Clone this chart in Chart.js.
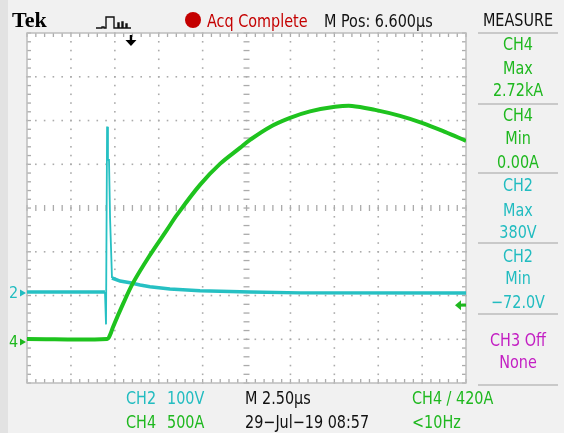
<!DOCTYPE html>
<html><head><meta charset="utf-8">
<script src="https://cdn.jsdelivr.net/npm/chart.js@4.4.1/dist/chart.umd.min.js"></script>
<style>
html,body{margin:0;padding:0;background:#f1f1f1;}
#wrap{position:relative;width:564px;height:433px;overflow:hidden;background:#f1f1f1;}
#strip{position:absolute;left:0;top:0;width:8px;height:433px;background:#e2e2e2;}
#c{position:absolute;left:0;top:0;}
.t{position:absolute;font-family:'DejaVu Sans Condensed','DejaVu Sans',sans-serif;font-stretch:condensed;font-size:16px;line-height:18px;white-space:nowrap;transform:scale(1,1.12);}
.pc{left:478px;width:80px;text-align:center;}
.sep{position:absolute;left:478px;width:80px;height:2px;background:#c9c9c9;}
.g{color:#1fb81f;} .cy{color:#22bcc0;} .mg{color:#c31ec3;} .k{color:#111;} .r{color:#c40000;}
</style></head>
<body>
<div id="wrap">
<div id="strip"></div>
<canvas id="c" width="564" height="433"></canvas>

<div class="t" style="left:12px;top:8px;font-family:'Liberation Serif',serif;font-weight:bold;font-size:22px;line-height:23px;transform:none;">Tek</div>
<svg style="position:absolute;left:96px;top:14px" width="36" height="16"><polyline points="0,14 6,14 6,13 8,13 8,14 10,14 10,3 18,3 18,14 22,14 22,9 23,9 23,14 26,14 26,8 27,8 27,14 30,14 30,10 31,10 31,14 35,14" fill="none" stroke="#111" stroke-width="1.4"/></svg>
<div style="position:absolute;left:185px;top:12px;width:16px;height:16px;border-radius:50%;background:#c40000;"></div>
<div class="t r" style="left:207px;top:12px;">Acq Complete</div>
<div class="t k" style="left:324px;top:12px;">M Pos: 6.600µs</div>
<div class="t k pc" style="top:11px;">MEASURE</div>

<div class="sep" style="top:32px"></div>
<div class="t g pc" style="top:35px">CH4</div>
<div class="t g pc" style="top:59px">Max</div>
<div class="t g pc" style="top:81px">2.72kA</div>
<div class="sep" style="top:103px"></div>
<div class="t g pc" style="top:106px">CH4</div>
<div class="t g pc" style="top:129px">Min</div>
<div class="t g pc" style="top:153px">0.00A</div>
<div class="sep" style="top:172px"></div>
<div class="t cy pc" style="top:176px">CH2</div>
<div class="t cy pc" style="top:201px">Max</div>
<div class="t cy pc" style="top:223px">380V</div>
<div class="sep" style="top:242px"></div>
<div class="t cy pc" style="top:247px">CH2</div>
<div class="t cy pc" style="top:269px">Min</div>
<div class="t cy pc" style="top:293px">−72.0V</div>
<div class="sep" style="top:313px"></div>
<div class="t mg pc" style="top:331px">CH3 Off</div>
<div class="t mg pc" style="top:353px">None</div>
<div class="sep" style="top:384px"></div>

<div class="t cy" style="left:126px;top:389px">CH2</div>
<div class="t cy" style="left:167px;top:389px">100V</div>
<div class="t g" style="left:126px;top:413px">CH4</div>
<div class="t g" style="left:167px;top:413px">500A</div>
<div class="t k" style="left:245px;top:389px">M 2.50µs</div>
<div class="t k" style="left:245px;top:413px">29−Jul−19 08:57</div>
<div class="t g" style="left:412px;top:389px">CH4 ∕ 420A</div>
<div class="t g" style="left:412px;top:413px">&lt;10Hz</div>

<div id="m2" class="t cy" style="left:9px;top:0px;transform:none;">2</div>
<div id="m4" class="t g" style="left:9px;top:0px;transform:none;">4</div>
</div>

<script>
// ---- channel settings ----
const ch2VoltsPerDiv = 100;
const ch4AmpsPerDiv = 500;
const ch2GroundDiv = -1.94;
const ch4GroundDiv = -3.06;
const timePerDivUs = 2.5;
const timeSpanUs = 25;
const triggerTimeUs = 5.92;
const triggerLevelA = 420;

// ---- CH4 current (A) ----
const ch4TimeUs = [0, 4.56, 4.73, 4.90, 5.47, 6.04, 7.01, 7.97, 8.54, 9.85, 10.99, 12.13, 12.70, 13.84, 14.98, 16.12, 17.54, 18.51, 19.82, 21.24, 22.49, 23.80, 25.0];
const ch4Amps   = [34, 34, 80, 171, 434, 674, 994, 1280, 1451, 1794, 2034, 2217, 2309, 2457, 2560, 2634, 2686, 2697, 2651, 2583, 2503, 2400, 2297];

// ---- CH2 voltage (V) ----
const ch2TimeUs = [0, 4.44, 4.50, 4.56, 4.61, 4.67, 4.73, 4.78, 4.84, 5.30, 5.87, 6.44, 7.00, 8.14, 9.85, 12.70, 15.55, 25.0];
const ch2Volts  = [2, 2, -72, 380, 304, 304, 171, 171, 34, 27, 23, 18, 14, 9, 5, 2, 0, 0];

const toDiv = (v, ground, perDiv) => ground + v / perDiv;

const graticule = {
  id: 'graticule',
  beforeDatasetsDraw(chart) {
    const {ctx, chartArea: a, scales: {x, y}} = chart;
    ctx.save();
    ctx.fillStyle = '#ffffff';
    ctx.fillRect(a.left, a.top, a.width, a.height);
    const xMinor = [], yMinor = [], xMajor = [], yMajor = [];
    for (let i = 0; i <= 50; i++) xMinor.push(x.getPixelForValue(x.min + i * timePerDivUs / 5));
    for (let i = 0; i <= 10; i++) xMajor.push(x.getPixelForValue(x.min + i * timePerDivUs));
    for (let i = 0; i <= 40; i++) yMinor.push(y.getPixelForValue(y.min + i / 5));
    for (let i = 0; i <= 8; i++) yMajor.push(y.getPixelForValue(y.min + i));
    ctx.fillStyle = '#ababab';
    xMajor.forEach((px, i) => { if (i > 0 && i < 10 && i !== 5) yMinor.forEach(py => ctx.fillRect(px - 0.75, py - 0.75, 1.6, 1.6)); });
    yMajor.forEach((py, j) => { if (j > 0 && j < 8 && j !== 4) xMinor.forEach(px => ctx.fillRect(px - 0.75, py - 0.75, 1.6, 1.6)); });
    const x0 = x.getPixelForValue((x.min + x.max) / 2), y0 = y.getPixelForValue(0);
    xMinor.forEach(px => ctx.fillRect(px - 0.6, y0 - 3, 1.3, 6));
    yMinor.forEach(py => ctx.fillRect(x0 - 3, py - 0.6, 6, 1.3));
    xMinor.forEach(px => { ctx.fillRect(px - 0.6, a.top, 1.3, 4); ctx.fillRect(px - 0.6, a.bottom - 4, 1.3, 4); });
    yMinor.forEach(py => { ctx.fillRect(a.left, py - 0.6, 4, 1.3); ctx.fillRect(a.right - 4, py - 0.6, 4, 1.3); });
    ctx.strokeStyle = '#bdbdbd';
    ctx.lineWidth = 1.5;
    ctx.strokeRect(a.left, a.top, a.width, a.height);
    ctx.restore();
  },
  afterDraw(chart) {
    const {ctx, chartArea: a, scales: {x, y}} = chart;
    ctx.save();
    const tx = x.getPixelForValue(triggerTimeUs);
    ctx.fillStyle = '#000';
    ctx.fillRect(tx - 1.2, a.top + 2, 2.4, 6);
    ctx.beginPath(); ctx.moveTo(tx - 5.5, a.top + 7); ctx.lineTo(tx + 5.5, a.top + 7); ctx.lineTo(tx, a.top + 13); ctx.closePath(); ctx.fill();
    const ty = y.getPixelForValue(toDiv(triggerLevelA, ch4GroundDiv, ch4AmpsPerDiv));
    ctx.fillStyle = '#1fb81f';
    ctx.beginPath(); ctx.moveTo(a.right - 11, ty); ctx.lineTo(a.right - 5, ty - 5); ctx.lineTo(a.right - 5, ty + 5); ctx.closePath(); ctx.fill();
    ctx.fillRect(a.right - 6, ty - 1.5, 6, 3);
    const g2 = y.getPixelForValue(ch2GroundDiv), g4 = y.getPixelForValue(ch4GroundDiv);
    ctx.fillStyle = '#22bcc0';
    ctx.beginPath(); ctx.moveTo(a.left - 7, g2 - 3.5); ctx.lineTo(a.left - 1, g2); ctx.lineTo(a.left - 7, g2 + 3.5); ctx.closePath(); ctx.fill();
    ctx.fillStyle = '#1fb81f';
    ctx.beginPath(); ctx.moveTo(a.left - 7, g4 - 3.5); ctx.lineTo(a.left - 1, g4); ctx.lineTo(a.left - 7, g4 + 3.5); ctx.closePath(); ctx.fill();
    ctx.restore();
    document.getElementById('m2').style.top = (g2 - 9) + 'px';
    document.getElementById('m4').style.top = (g4 - 9) + 'px';
  }
};

new Chart(document.getElementById('c'), {
  type: 'line',
  data: {
    datasets: [
      {
        label: 'CH4',
        data: ch4TimeUs.map((t, i) => ({x: t, y: toDiv(ch4Amps[i], ch4GroundDiv, ch4AmpsPerDiv)})),
        borderColor: '#1ec31e', borderWidth: 4, pointRadius: 0,
        tension: 0.35, fill: false
      },
      {
        label: 'CH2',
        data: ch2TimeUs.map((t, i) => ({x: t, y: toDiv(ch2Volts[i], ch2GroundDiv, ch2VoltsPerDiv)})),
        borderColor: '#26c0c3', borderWidth: 3.5, pointRadius: 0, tension: 0, fill: false,
        segment: { borderWidth: c => (c.p0DataIndex >= 1 && c.p1DataIndex <= 8) ? 1.8 : 3.5 }
      }
    ]
  },
  options: {
    responsive: false, animation: false, devicePixelRatio: 1,
    layout: { padding: { left: 27, top: 33, right: 98, bottom: 50 } },
    plugins: { legend: { display: false }, tooltip: { enabled: false } },
    scales: {
      x: { type: 'linear', min: 0, max: timeSpanUs, display: false },
      y: { type: 'linear', min: -4, max: 4, display: false }
    }
  },
  plugins: [graticule]
});
</script>
</body></html>
